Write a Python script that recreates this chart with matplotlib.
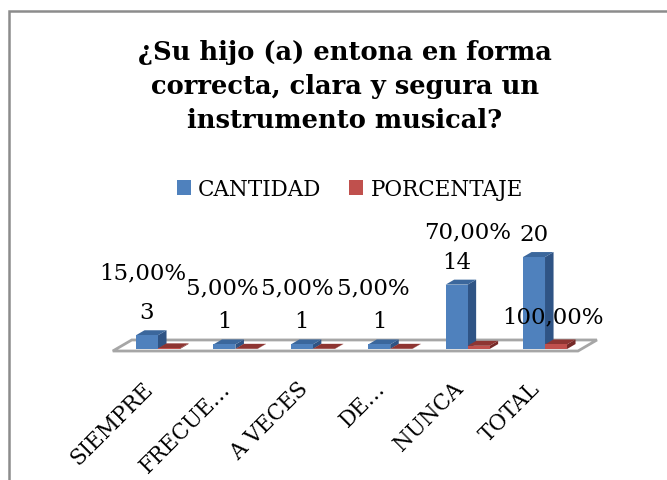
import matplotlib
matplotlib.use('Agg')
import matplotlib.pyplot as plt
import matplotlib.patches as mpatches

# Data
categories = ['SIEMPRE', 'FRECUE…', 'A VECES', 'DE…', 'NUNCA', 'TOTAL']
cantidad = [3, 1, 1, 1, 14, 20]
porcentaje = [0.15, 0.05, 0.05, 0.05, 0.70, 1.00]
pct_labels = ['15,00%', '5,00%', '5,00%', '5,00%', '70,00%', '100,00%']
series_names = ['CANTIDAD', 'PORCENTAJE']
title = '¿Su hijo (a) entona en forma\ncorrecta, clara y segura un\ninstrumento musical?'

# Excel-like label offsets for the percentage labels (pixels, from red bar top)
pct_offsets = [(-26, 70), (-24, 55), (-26, 55), (-28, 55), (-11, 108), (-3, 22)]

# Colours
blue = ['#4F81BD', '#3B679C', '#2F5485']    # front, top, side
red = ['#C0504D', '#8E3532', '#762A28']
floor_edge = '#A6A6A6'

# 3D look (oblique projection) in data units
W = 0.284          # bar width (category units)
DX, DY = 0.245, 2.4  # floor depth offset
Z0, ZB = 0.18, 0.45  # bar front depth and bar depth (fraction of floor depth)

plt.rcParams['font.family'] = ['DejaVu Serif']

fig = plt.figure(figsize=(6.67, 4.81), dpi=100)
ax = fig.add_axes([0, 0, 1, 1])
ax.set_xlim(-1.997, 6.620)
ax.set_ylim(-28.04, 76.52)
ax.axis('off')

# chart border
fig.patches.append(mpatches.Rectangle((9 / 667, -0.1), 1.2, 1 - 12 / 481 + 0.1,
                                      transform=fig.transFigure, fill=False,
                                      ec='#8C8C8C', lw=1.8))


def proj(x, y, z):
    return (x + z * DX, y + z * DY)


def draw_bar(x0, val, cols):
    za, zb = Z0, Z0 + ZB
    x1 = x0 + W
    side = [proj(x1, 0, za), proj(x1, 0, zb), proj(x1, val, zb), proj(x1, val, za)]
    top = [proj(x0, val, za), proj(x1, val, za), proj(x1, val, zb), proj(x0, val, zb)]
    front = [proj(x0, 0, za), proj(x1, 0, za), proj(x1, val, za), proj(x0, val, za)]
    ax.add_patch(mpatches.Polygon(side, closed=True, fc=cols[2], ec='none', zorder=3))
    ax.add_patch(mpatches.Polygon(top, closed=True, fc=cols[1], ec='none', zorder=3))
    ax.add_patch(mpatches.Polygon(front, closed=True, fc=cols[0], ec='none', zorder=3))


# floor
n = len(categories)
fl = [proj(-0.54, 0, 0), proj(n - 0.53, 0, 0), proj(n - 0.53, 0, 1), proj(-0.54, 0, 1)]
ax.add_patch(mpatches.Polygon(fl, closed=True, fc='white', ec=floor_edge, lw=2, zorder=2))

for i in range(n):
    draw_bar(i - W, cantidad[i], blue)
    draw_bar(i, porcentaje[i], red)

# data labels
for i in range(n):
    bx, by = proj(i - W / 2, cantidad[i], Z0)
    ax.annotate(str(cantidad[i]), (bx, by), xytext=(0, 17), textcoords='offset pixels',
                ha='center', va='baseline', fontsize=16.5, zorder=5)
    rx, ry = proj(i + W / 2, porcentaje[i], Z0)
    ax.annotate(pct_labels[i], (rx, ry), xytext=pct_offsets[i], textcoords='offset pixels',
                ha='center', va='baseline', fontsize=16.5, zorder=5)

# category labels
for i, cat in enumerate(categories):
    ax.annotate(cat, (i, 0), xytext=(3, -26), textcoords='offset pixels',
                ha='right', va='top', rotation=45, fontsize=15.5)

# title
fig.text(345 / 667, 1 - 40 / 481, title, ha='center', va='top', fontsize=18.5,
         fontweight='bold', linespacing=1.45)

# legend
handles = [mpatches.Patch(fc=blue[0], ec='none'), mpatches.Patch(fc=red[0], ec='none')]
fig.legend(handles, series_names, loc='center', bbox_to_anchor=(350 / 667, 1 - 190 / 481),
           ncol=2, frameon=False, fontsize=15.5, handlelength=0.65, handleheight=0.65,
           handletextpad=0.35, columnspacing=1.3)

fig.savefig('out.png', dpi=100, facecolor='white')
